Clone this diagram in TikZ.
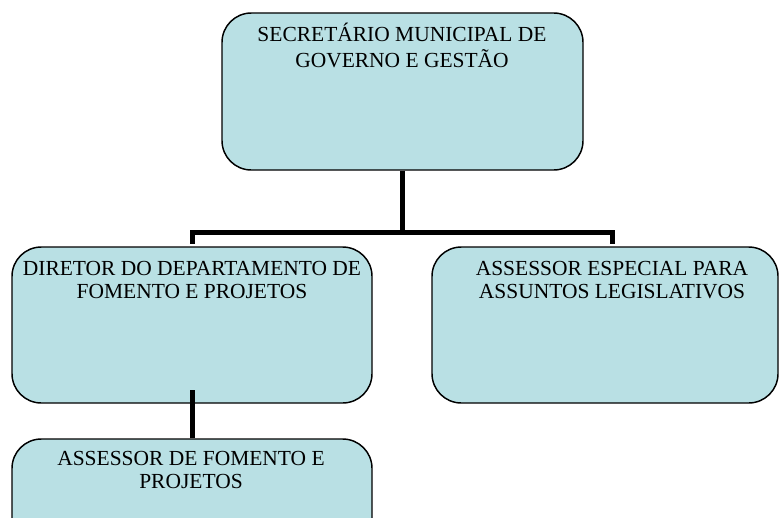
\documentclass[tikz,border=0pt]{standalone}
\usepackage{fontspec}
\setmainfont{Liberation Serif}
\definecolor{boxfill}{RGB}{185,224,228}
\begin{document}
\begin{tikzpicture}[x=0.75pt,y=-0.75pt,
  orgbox/.style={draw=black,line width=1.1pt,fill=boxfill,rounded corners=22pt,rectangle,inner sep=0pt},
  lbl/.style={anchor=base,inner sep=0pt,font=\fontsize{16.1pt}{17.6pt}\selectfont},
  conn/.style={line width=3.75pt,line join=miter,line cap=butt}]
\useasboundingbox (0,0) rectangle (780,517);
\clip (0,0) rectangle (780,517);
\node[orgbox,minimum width=270.75pt,minimum height=117.75pt] (top) at (402.5,91.5) {};
\node[orgbox,minimum width=270pt,minimum height=117pt] (left) at (192,325) {};
\node[orgbox,minimum width=259.5pt,minimum height=117pt] (right) at (605,325) {};
\node[orgbox,minimum width=270pt,minimum height=117pt] (sub) at (192,517) {};
\coordinate (bus) at (402,232);
\draw[conn] (top.south) -- (top.south |- bus);
\draw[conn] ([yshift=1.85pt]left.north) -- (left.north |- bus) -- (right.north |- bus -| 612,0) -- ([yshift=1.85pt]right.north -| 612,0);
\draw[conn] (sub.north) -- ([yshift=10pt]left.south);
\node[lbl] (ttop) at (402,42) {\begin{tabular}[t]{@{}c@{}}SECRETÁRIO MUNICIPAL DE\\GOVERNO E GESTÃO\end{tabular}};
\node[lbl] (tleft) at (192,275) {\begin{tabular}[t]{@{}c@{}}DIRETOR DO DEPARTAMENTO DE\\FOMENTO E PROJETOS\end{tabular}};
\node[lbl] (tright) at (612,275) {\begin{tabular}[t]{@{}c@{}}ASSESSOR ESPECIAL PARA\\ASSUNTOS LEGISLATIVOS\end{tabular}};
\node[lbl] (tsub) at (191,465) {\begin{tabular}[t]{@{}c@{}}ASSESSOR DE FOMENTO E\\PROJETOS\end{tabular}};
\end{tikzpicture}
\end{document}
